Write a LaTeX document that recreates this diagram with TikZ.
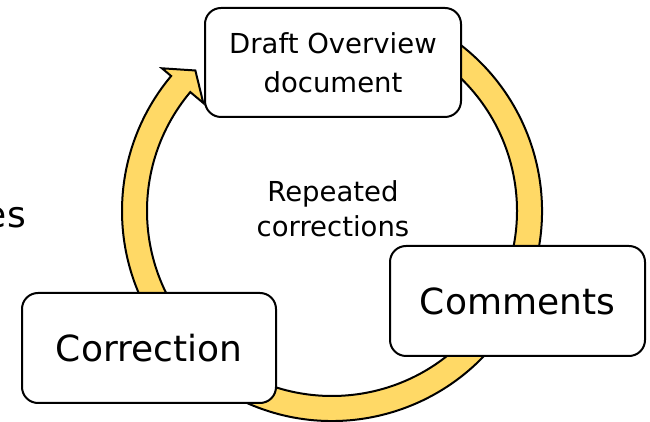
\documentclass[tikz,border=0pt]{standalone}
\usepackage{fontspec}
\setmainfont{DejaVu Sans}
\definecolor{ringgold}{HTML}{FFD966}
\tikzset{
  stage/.style={draw, line width=2pt, rounded corners=16pt, fill=white, align=center, inner sep=0pt},
  big/.style={font=\fontsize{36}{42}\selectfont},
  small/.style={font=\fontsize{27.5}{39}\selectfont},
}
\begin{document}
\begin{tikzpicture}[x=1pt,y=1pt]
\useasboundingbox (0,0) rectangle (650,422);
% ring arrow, clockwise, starting behind the top box
\begin{scope}[shift={(332,211)}]
\draw [line width=2pt, fill=ringgold] (65:210) arc [start angle=65, end angle=-220, radius=210] -- (140:222) -- (134.2:196) -- (140:168) -- (140:185) arc [start angle=140, end angle=425, radius=185] -- cycle ;
\end{scope}
\node [stage, small, minimum width=256pt, minimum height=109pt] (draft) at (333,359.5) {Draft Overview\\document} ;
\node [stage, big, minimum width=255pt, minimum height=110pt] (comments) at (517.5,121) {Comments} ;
\node [stage, big, minimum width=254pt, minimum height=110pt] (correction) at (149,74) {Correction} ;
\node [small, align=center, font=\fontsize{27.5}{35}\selectfont] (repeat) at (333,213) {Repeated\\corrections} ;
\node [big, anchor=base east, inner sep=0pt] (cut) at (26,194) {es} ;
\end{tikzpicture}
\end{document}
